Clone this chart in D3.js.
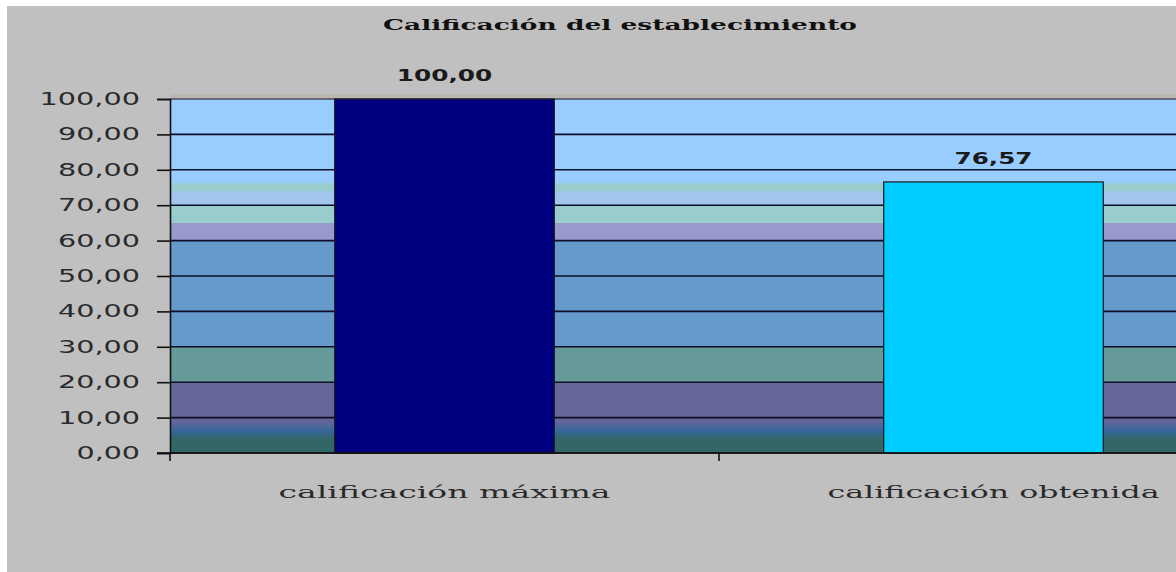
<!DOCTYPE html>
<html>
<head>
<meta charset="utf-8">
<script src="https://cdn.jsdelivr.net/npm/d3@7/dist/d3.min.js"></script>
<style>
    html, body { margin: 0; padding: 0; background: #fff; }
    svg { display: block; }
</style>
</head>
<body>
<div id="chart"></div>
<script>
const title = "Calificación del establecimiento";
const categories = ["calificación máxima", "calificación obtenida"];
const values = [100, 76.57];
const yTicks = [0, 10, 20, 30, 40, 50, 60, 70, 80, 90, 100];

// plot background bands (axis value -> colour), drawn as a vertical gradient
const bandValues = [0, 4, 6, 9, 20, 20, 30, 30, 60, 60, 65, 65, 70, 70, 73.6, 74.4, 75.9, 76.6, 100];
const bandColors = ["#336666", "#336666", "#336699", "#666699", "#666699", "#669999", "#669999", "#6699cc",
    "#6699cc", "#9999cc", "#9999cc", "#99cccc", "#99cccc", "#a2c6ee", "#a2c6ee", "#99cccc", "#99cccc", "#99ccff", "#99ccff"];

const barColors = ["#000080", "#00ccff"];

let width = 1176, height = 572;
let margin = {left: 170, top: 99, bottom: 453};

let locale = d3.formatLocale({decimal: ",", thousands: ".", grouping: [3], currency: ["", ""]});
let fmt = locale.format(".2f");

// wide old-style glyphs: stretch each label to its measured width
let digitW = 18.5, commaW = 10;
let labelLen = (s) => {
    let w = 0;
    for (let c of s) w += (c === ",") ? commaW : digitW;
    return w - 2;
};

let svg = d3.select("#chart").append("svg")
    .attr("width", width)
    .attr("height", height);

svg.append("rect")
    .attr("x", 7).attr("y", 6)
    .attr("width", width - 7).attr("height", height - 6)
    .attr("fill", "#c0c0c0");

let y = d3.scaleLinear().domain([0, 100]).range([margin.bottom, margin.top]);
let x = d3.scaleBand().domain(categories).range([margin.left, margin.left + 2 * 549]).paddingInner(0).paddingOuter(0);
let barW = x.bandwidth() / 2.5;

// gradient for the banded plot area
let defs = svg.append("defs");
let grad = defs.append("linearGradient")
    .attr("id", "bands")
    .attr("gradientUnits", "userSpaceOnUse")
    .attr("x1", 0).attr("x2", 0)
    .attr("y1", y(0)).attr("y2", y(100));
grad.selectAll("stop")
    .data(bandValues)
    .enter().append("stop")
    .attr("offset", d => d / 100)
    .attr("stop-color", (d, i) => bandColors[i]);

svg.append("rect")
    .attr("x", margin.left)
    .attr("y", y(100))
    .attr("width", x.range()[1] - margin.left)
    .attr("height", y(0) - y(100))
    .attr("fill", "url(#bands)");

// faint brownish shade just above the plot top
svg.append("rect")
    .attr("x", margin.left).attr("y", y(100) - 5)
    .attr("width", x.range()[1] - margin.left).attr("height", 4)
    .attr("fill", "#bdb7b2");

// gridlines
svg.append("g")
    .selectAll("line")
    .data(yTicks)
    .enter().append("line")
    .attr("x1", margin.left).attr("x2", x.range()[1])
    .attr("y1", d => y(d)).attr("y2", d => y(d))
    .attr("stroke", d => d === 100 ? "#4a4a5a" : "#0d0d26")
    .attr("stroke-width", 1.6);

// bars
svg.append("g")
    .selectAll("rect")
    .data(values)
    .enter().append("rect")
    .attr("x", (d, i) => x(categories[i]) + (x.bandwidth() - barW) / 2)
    .attr("y", d => y(d))
    .attr("width", barW)
    .attr("height", d => y(0) - y(d))
    .attr("fill", (d, i) => barColors[i])
    .attr("stroke", "#1a1a1a")
    .attr("stroke-width", 1.2);

// value labels
svg.append("g")
    .selectAll("text")
    .data(values)
    .enter().append("text")
    .attr("x", (d, i) => x(categories[i]) + x.bandwidth() / 2)
    .attr("y", d => y(d) - 18)
    .attr("text-anchor", "middle")
    .attr("font-family", "DejaVu Sans")
    .attr("font-weight", "bold")
    .attr("font-size", 16)
    .attr("fill", "#1a1a1a")
    .attr("textLength", d => labelLen(fmt(d)) * 0.95)
    .attr("lengthAdjust", "spacingAndGlyphs")
    .text(d => fmt(d));

// y axis
let yAxis = svg.append("g")
    .attr("transform", `translate(${margin.left},0)`)
    .call(d3.axisLeft(y).tickValues(yTicks).tickFormat(fmt).tickSize(13).tickPadding(17));
yAxis.select(".domain").attr("stroke", "#111").attr("stroke-width", 1.6);
yAxis.selectAll(".tick line").attr("stroke", "#111").attr("stroke-width", 1.6);
yAxis.selectAll(".tick text")
    .attr("font-family", "DejaVu Sans")
    .attr("font-size", 17)
    .attr("fill", "#2a2a2a")
    .attr("textLength", d => labelLen(fmt(d)))
    .attr("lengthAdjust", "spacingAndGlyphs");

// x axis
let xAxis = svg.append("g")
    .attr("transform", `translate(0,${y(0)})`);
xAxis.append("line")
    .attr("x1", margin.left - 13).attr("x2", x.range()[1])
    .attr("y1", 0).attr("y2", 0)
    .attr("stroke", "#111").attr("stroke-width", 1.6);
xAxis.selectAll(".xtick")
    .data(categories.concat(["end"]))
    .enter().append("line")
    .attr("class", "xtick")
    .attr("x1", (d, i) => margin.left + i * x.bandwidth())
    .attr("x2", (d, i) => margin.left + i * x.bandwidth())
    .attr("y1", 0).attr("y2", 8)
    .attr("stroke", "#111").attr("stroke-width", 1.6);
xAxis.selectAll(".xlabel")
    .data(categories)
    .enter().append("text")
    .attr("class", "xlabel")
    .attr("x", d => x(d) + x.bandwidth() / 2)
    .attr("y", 45)
    .attr("text-anchor", "middle")
    .attr("font-family", "DejaVu Serif")
    .attr("font-size", 17)
    .attr("fill", "#2a2a2a")
    .attr("textLength", 332)
    .attr("lengthAdjust", "spacingAndGlyphs")
    .text(d => d);

// title
svg.append("text")
    .attr("x", 620)
    .attr("y", 30)
    .attr("text-anchor", "middle")
    .attr("font-family", "DejaVu Serif")
    .attr("font-weight", "bold")
    .attr("font-size", 15)
    .attr("fill", "#111")
    .attr("textLength", 474)
    .attr("lengthAdjust", "spacingAndGlyphs")
    .text(title);
</script>
</body>
</html>
